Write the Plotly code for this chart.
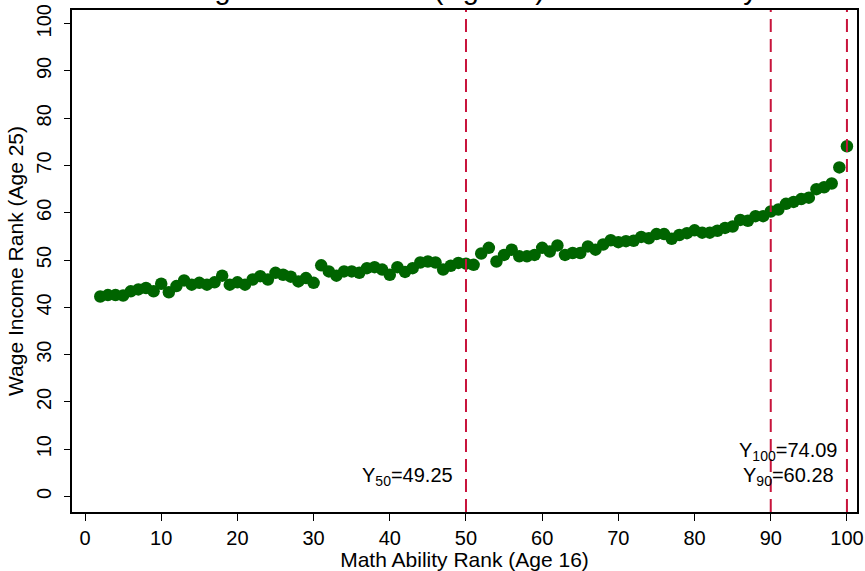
import plotly.graph_objects as go

math_rank = list(range(2, 101))
wage_rank = [
    42.3, 42.6, 42.6, 42.5, 43.4, 43.8, 44.1, 43.4, 45.0, 43.2,
    44.5, 45.7, 44.8, 45.2, 44.8, 45.3, 46.7, 44.8, 45.3, 44.8,
    45.9, 46.6, 45.9, 47.3, 46.9, 46.5, 45.5, 46.2, 45.2, 48.9,
    47.6, 46.7, 47.6, 47.6, 47.3, 48.3, 48.5, 48.0, 46.9, 48.5,
    47.5, 48.3, 49.5, 49.7, 49.5, 48.0, 48.8, 49.4, 49.25, 49.0,
    51.4, 52.6, 49.7, 51.1, 52.2, 50.8, 50.8, 51.1, 52.6, 51.8,
    53.1, 51.1, 51.5, 51.5, 52.9, 52.2, 53.3, 54.2, 53.8, 54.0,
    54.1, 54.9, 54.6, 55.5, 55.5, 54.5, 55.3, 55.7, 56.3, 55.8,
    55.8, 56.2, 56.8, 57.1, 58.5, 58.3, 59.3, 59.3, 60.28, 60.7,
    61.9, 62.3, 62.9, 63.2, 65.0, 65.4, 66.2, 69.6, 74.09,
]

ref_x = [50, 90, 100]
labels = [
    (50, "Y<sub>50</sub>=49.25", 4.3, -11),
    (100, "Y<sub>100</sub>=74.09", 9.6, -8),
    (100, "Y<sub>90</sub>=60.28", 4.3, -11),
]
x_ticks = list(range(0, 101, 10))
y_ticks = list(range(0, 101, 10))

FONT = "Liberation Sans, Arial, Helvetica, sans-serif"
LINE_COLOR = "#C8143C"

fig = go.Figure()
fig.add_trace(go.Scatter(
    x=math_rank, y=wage_rank, mode="markers",
    marker=dict(color="#006400", size=12.5, line=dict(width=0)),
    showlegend=False, cliponaxis=False,
))

for xv in ref_x:
    fig.add_shape(type="line", x0=xv, x1=xv, y0=0, y1=1, xref="x", yref="paper",
                  line=dict(color=LINE_COLOR, width=2, dash="13px,7px"))

for xv, txt, yv, xs in labels:
    fig.add_annotation(x=xv, y=yv, xref="x", yref="y", text=txt, showarrow=False,
                       xanchor="right", yanchor="middle", xshift=xs,
                       font=dict(size=20, color="black", family=FONT))

# clipped title at the very top
fig.add_annotation(x=0.5, y=1.0, xref="paper", yref="paper", yshift=3,
                   text="Wage Income Rank (Age 25) and Math Ability",
                   showarrow=False, xanchor="center", yanchor="bottom",
                   font=dict(size=29, color="black", family=FONT))

fig.update_layout(
    width=865, height=571,
    margin=dict(l=72, r=8, t=10, b=59, autoexpand=False),
    paper_bgcolor="white", plot_bgcolor="white",
    font=dict(family=FONT, color="black"),
    xaxis=dict(
        range=[-1.71, 101.32], tickvals=x_ticks, ticks="outside", ticklen=7,
        tickwidth=1.3, tickcolor="black", showgrid=False, zeroline=False,
        showline=True, linecolor="black", linewidth=1.5, mirror=True,
        automargin=False, ticklabeloverflow="allow",
        tickfont=dict(size=20), title=dict(text="Math Ability Rank (Age 16)",
                                           font=dict(size=21), standoff=2),
    ),
    yaxis=dict(
        range=[-3.28, 102.9], tickvals=y_ticks, ticks="outside", ticklen=6,
        tickwidth=1.3, tickcolor="black", showgrid=False, zeroline=False,
        showline=True, linecolor="black", linewidth=1.5, mirror=True,
        automargin=False, tickangle=-90, tickfont=dict(size=20),
        ticklabelstandoff=5, ticklabeloverflow="allow",
        title=dict(text="Wage Income Rank (Age 25)", font=dict(size=21), standoff=4),
    ),
)

fig.write_html(
    "out.html",
    config={"displayModeBar": False},
    post_script="document.body.style.margin='0';document.body.style.overflow='hidden';",
)
